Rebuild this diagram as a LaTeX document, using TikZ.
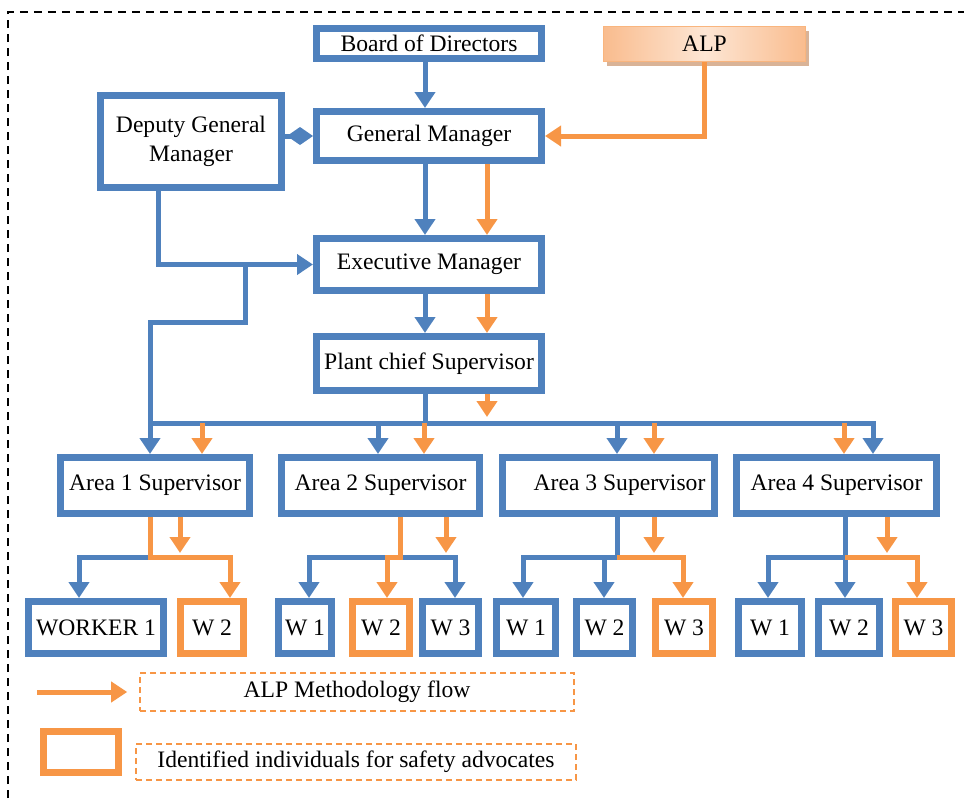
\documentclass[tikz,border=0pt]{standalone}
\usepackage{fontspec}
\setmainfont{Liberation Serif}
\usepackage{tikz}
\usetikzlibrary{arrows.meta, shadows}
\definecolor{orgblue}{HTML}{4F81BD}
\definecolor{orgorange}{HTML}{F79646}
\definecolor{alplight}{HTML}{FDE6D4}
\definecolor{alpmid}{HTML}{F9BC8E}
\definecolor{alpshade}{HTML}{C9936B}

\begin{document}
\begin{tikzpicture}[
  x=0.5pt, y=-0.5pt,
  font=\fontsize{11.8}{13.5}\selectfont,
  staff/.style={draw=orgblue, line width=3.3pt, fill=white, inner sep=1pt, align=center},
  advocate/.style={staff, draw=orgorange},
  source/.style={draw=orgorange!70, line width=0.6pt, inner sep=1pt,
                 left color=alpmid, right color=alpmid, middle color=alplight,
                 drop shadow={shadow xshift=1.5pt, shadow yshift=-2pt, fill=alpshade, opacity=0.7}},
  legend/.style={draw=orgorange, line width=0.8pt, dash pattern=on 3pt off 2pt, inner sep=1pt},
  bline/.style={draw=orgblue, line width=2.5pt},
  oline/.style={draw=orgorange, line width=2.5pt},
  barrow/.style={bline, -{Triangle[width=10pt, length=8pt]}},
  oarrow/.style={oline, -{Triangle[width=10pt, length=8pt]}},
]
  \useasboundingbox (0,0) rectangle (964,798);
  % Outer frame
  \draw[line width=1pt, dash pattern=on 4pt off 3pt] (8,798) -- (8,12) -- (964,12);
  % Top management
  \node[staff, minimum width=112.7pt, minimum height=15.2pt] (board) at (429,43.5) {Board of Directors};
  \node[source, minimum width=101pt, minimum height=17.5pt] (alp) at (704.5,44) {ALP};
  \node[staff, minimum width=112.7pt, minimum height=24.7pt] (gm) at (429,136) {General Manager};
  \node[staff, minimum width=90.7pt, minimum height=46.2pt, font=\fontsize{11.8}{14.5}\selectfont] (dgm) at (191,141.5) {Deputy General\\Manager};
  \node[staff, minimum width=112.7pt, minimum height=26.2pt] (exec) at (429,264.5) {Executive Manager};
  \node[staff, minimum width=112.7pt, minimum height=27.2pt] (plant) at (429,363.5) {Plant chief Supervisor};
  % Area supervisors
  \node[staff, minimum width=94.7pt, minimum height=28.2pt] (area1) at (155,485.5) {Area 1 Supervisor};
  \node[staff, minimum width=99.2pt, minimum height=28.2pt] (area2) at (380.5,485.5) {Area 2 Supervisor};
  \node[staff, minimum width=106.2pt, minimum height=28.2pt] (area3) at (608.5,485.5) {\hspace*{11pt}Area 3 Supervisor};
  \node[staff, minimum width=100.2pt, minimum height=28.2pt] (area4) at (836.5,485.5) {Area 4 Supervisor};
  % Workers
  \node[staff, minimum width=67.7pt, minimum height=26.2pt] (a1_w1) at (96,627.5) {WORKER 1};
  \node[advocate, minimum width=31.7pt, minimum height=26.2pt] (a1_w2) at (212,627.5) {W 2};
  \node[staff, minimum width=26.7pt, minimum height=26.2pt] (a2_w1) at (305,627.5) {W 1};
  \node[advocate, minimum width=28.7pt, minimum height=26.2pt] (a2_w2) at (381,627.5) {W 2};
  \node[staff, minimum width=28.2pt, minimum height=26.2pt] (a2_w3) at (450.5,627.5) {W 3};
  \node[staff, minimum width=29.7pt, minimum height=26.2pt] (a3_w1) at (526,627.5) {W 1};
  \node[staff, minimum width=28.2pt, minimum height=26.2pt] (a3_w2) at (604.5,627.5) {W 2};
  \node[advocate, minimum width=28.7pt, minimum height=26.2pt] (a3_w3) at (684,627.5) {W 3};
  \node[staff, minimum width=31.7pt, minimum height=26.2pt] (a4_w1) at (770,627.5) {W 1};
  \node[staff, minimum width=30.7pt, minimum height=26.2pt] (a4_w2) at (849,627.5) {W 2};
  \node[advocate, minimum width=28.2pt, minimum height=26.2pt] (a4_w3) at (923.5,627.5) {W 3};
  % Junction points
  \coordinate (split) at (245,264.5);
  \coordinate (bend) at (150,322);
  \coordinate (bus_l) at (150,423);
  \coordinate (fork1) at (150,557);
  \coordinate (fork2) at (400,557);
  \coordinate (fork3) at (617,557);
  \coordinate (fork4) at (845,557);
  % Top links
  \draw[barrow] ([xshift=-2pt]board.south) -- ([xshift=-2pt]gm.north);
  \draw[oarrow] (alp.south) |- (gm.east);
  \draw[bline, -{Diamond[width=9pt, length=13pt]}] (dgm.east |- gm.west) -- (gm.west);
  \draw[barrow] ([xshift=-2pt]gm.south) -- ([xshift=-2pt]exec.north);
  \draw[oarrow] ([xshift=29pt]gm.south) -- ([xshift=29pt]exec.north);
  \draw[barrow] ([xshift=-16.5pt]dgm.south) |- (exec.west);
  \draw[barrow] ([xshift=-2pt]exec.south) -- ([xshift=-2pt]plant.north);
  \draw[oarrow] ([xshift=29pt]exec.south) -- ([xshift=29pt]plant.north);
  % Bus to the areas
  \draw[barrow] (split) |- (bend) -- (bend |- area1.north);
  \draw[barrow] (bus_l) -| ([xshift=18.25pt]area4.north);
  \draw[bline] ([xshift=-2pt]plant.south) -- ([xshift=-2pt]plant.south |- bus_l);
  \draw[oarrow, shorten >=3pt] ([xshift=29pt]plant.south) -- ([xshift=29pt]plant.south |- bus_l);
  \draw[barrow] ([xshift=-1.25pt]area2.north |- bus_l) -- ([xshift=-1.25pt]area2.north);
  \draw[barrow] ([xshift=4.25pt]area3.north |- bus_l) -- ([xshift=4.25pt]area3.north);
  \draw[oarrow] ([xshift=23.5pt]area1.north |- bus_l) -- ([xshift=23.5pt]area1.north);
  \draw[oarrow] ([xshift=21.75pt]area2.north |- bus_l) -- ([xshift=21.75pt]area2.north);
  \draw[oarrow] ([xshift=22.75pt]area3.north |- bus_l) -- ([xshift=22.75pt]area3.north);
  \draw[oarrow] ([xshift=3.75pt]area4.north |- bus_l) -- ([xshift=3.75pt]area4.north);
  % Area 1 workers
  \draw[barrow] (fork1) -| ([xshift=-8.5pt]a1_w1.north);
  \draw[oarrow] ([xshift=-2.5pt]area1.south) -- (fork1) -| ([xshift=9pt]a1_w2.north);
  \draw[oarrow, shorten >=2pt] ([xshift=12.5pt]area1.south) -- ([xshift=12.5pt]area1.south |- fork1);
  % Area 2 workers
  \draw[barrow] (fork2) -| ([xshift=2pt]a2_w1.north);
  \draw[barrow] (fork2) -| ([xshift=2.25pt]a2_w3.north);
  \draw[oarrow] ([xshift=9.75pt]area2.south) -- (fork2) -| ([xshift=3pt]a2_w2.north);
  \draw[oarrow, shorten >=2pt] ([xshift=32.75pt]area2.south) -- ([xshift=32.75pt]area2.south |- fork2);
  % Area 3 workers
  \draw[barrow] ([xshift=4.25pt]area3.south) -- (fork3) -| ([xshift=-1.5pt]a3_w1.north);
  \draw[barrow] ([xshift=-0.25pt]a3_w2.north |- fork3) -- ([xshift=-0.25pt]a3_w2.north);
  \draw[oarrow] (fork3) -| ([xshift=-0.5pt]a3_w3.north);
  \draw[oarrow, shorten >=2pt] ([xshift=22.75pt]area3.south) -- ([xshift=22.75pt]area3.south |- fork3);
  % Area 4 workers
  \draw[barrow] ([xshift=4.25pt]area4.south) -- (fork4) -| ([xshift=-1pt]a4_w1.north);
  \draw[barrow] (fork4) -- (fork4 |- a4_w2.north);
  \draw[oarrow] (fork4) -| ([xshift=-3.25pt]a4_w3.north);
  \draw[oarrow, shorten >=2pt] ([xshift=25.25pt]area4.south) -- ([xshift=25.25pt]area4.south |- fork4);
  % Legend
  \node[legend, minimum width=217pt, minimum height=19pt] (flow_key) at (357,692) {ALP Methodology flow};
  \coordinate (flow_tail) at (37,692);
  \draw[oarrow, shorten >=6pt] (flow_tail) -- (flow_tail -| flow_key.west);
  \node[advocate, minimum width=37.7pt, minimum height=20.7pt] (adv_key) at (81,752) {};
  \node[legend, minimum width=220pt, minimum height=18pt] (adv_text) at (356,762) {Identified individuals for safety advocates};
\end{tikzpicture}
\end{document}
